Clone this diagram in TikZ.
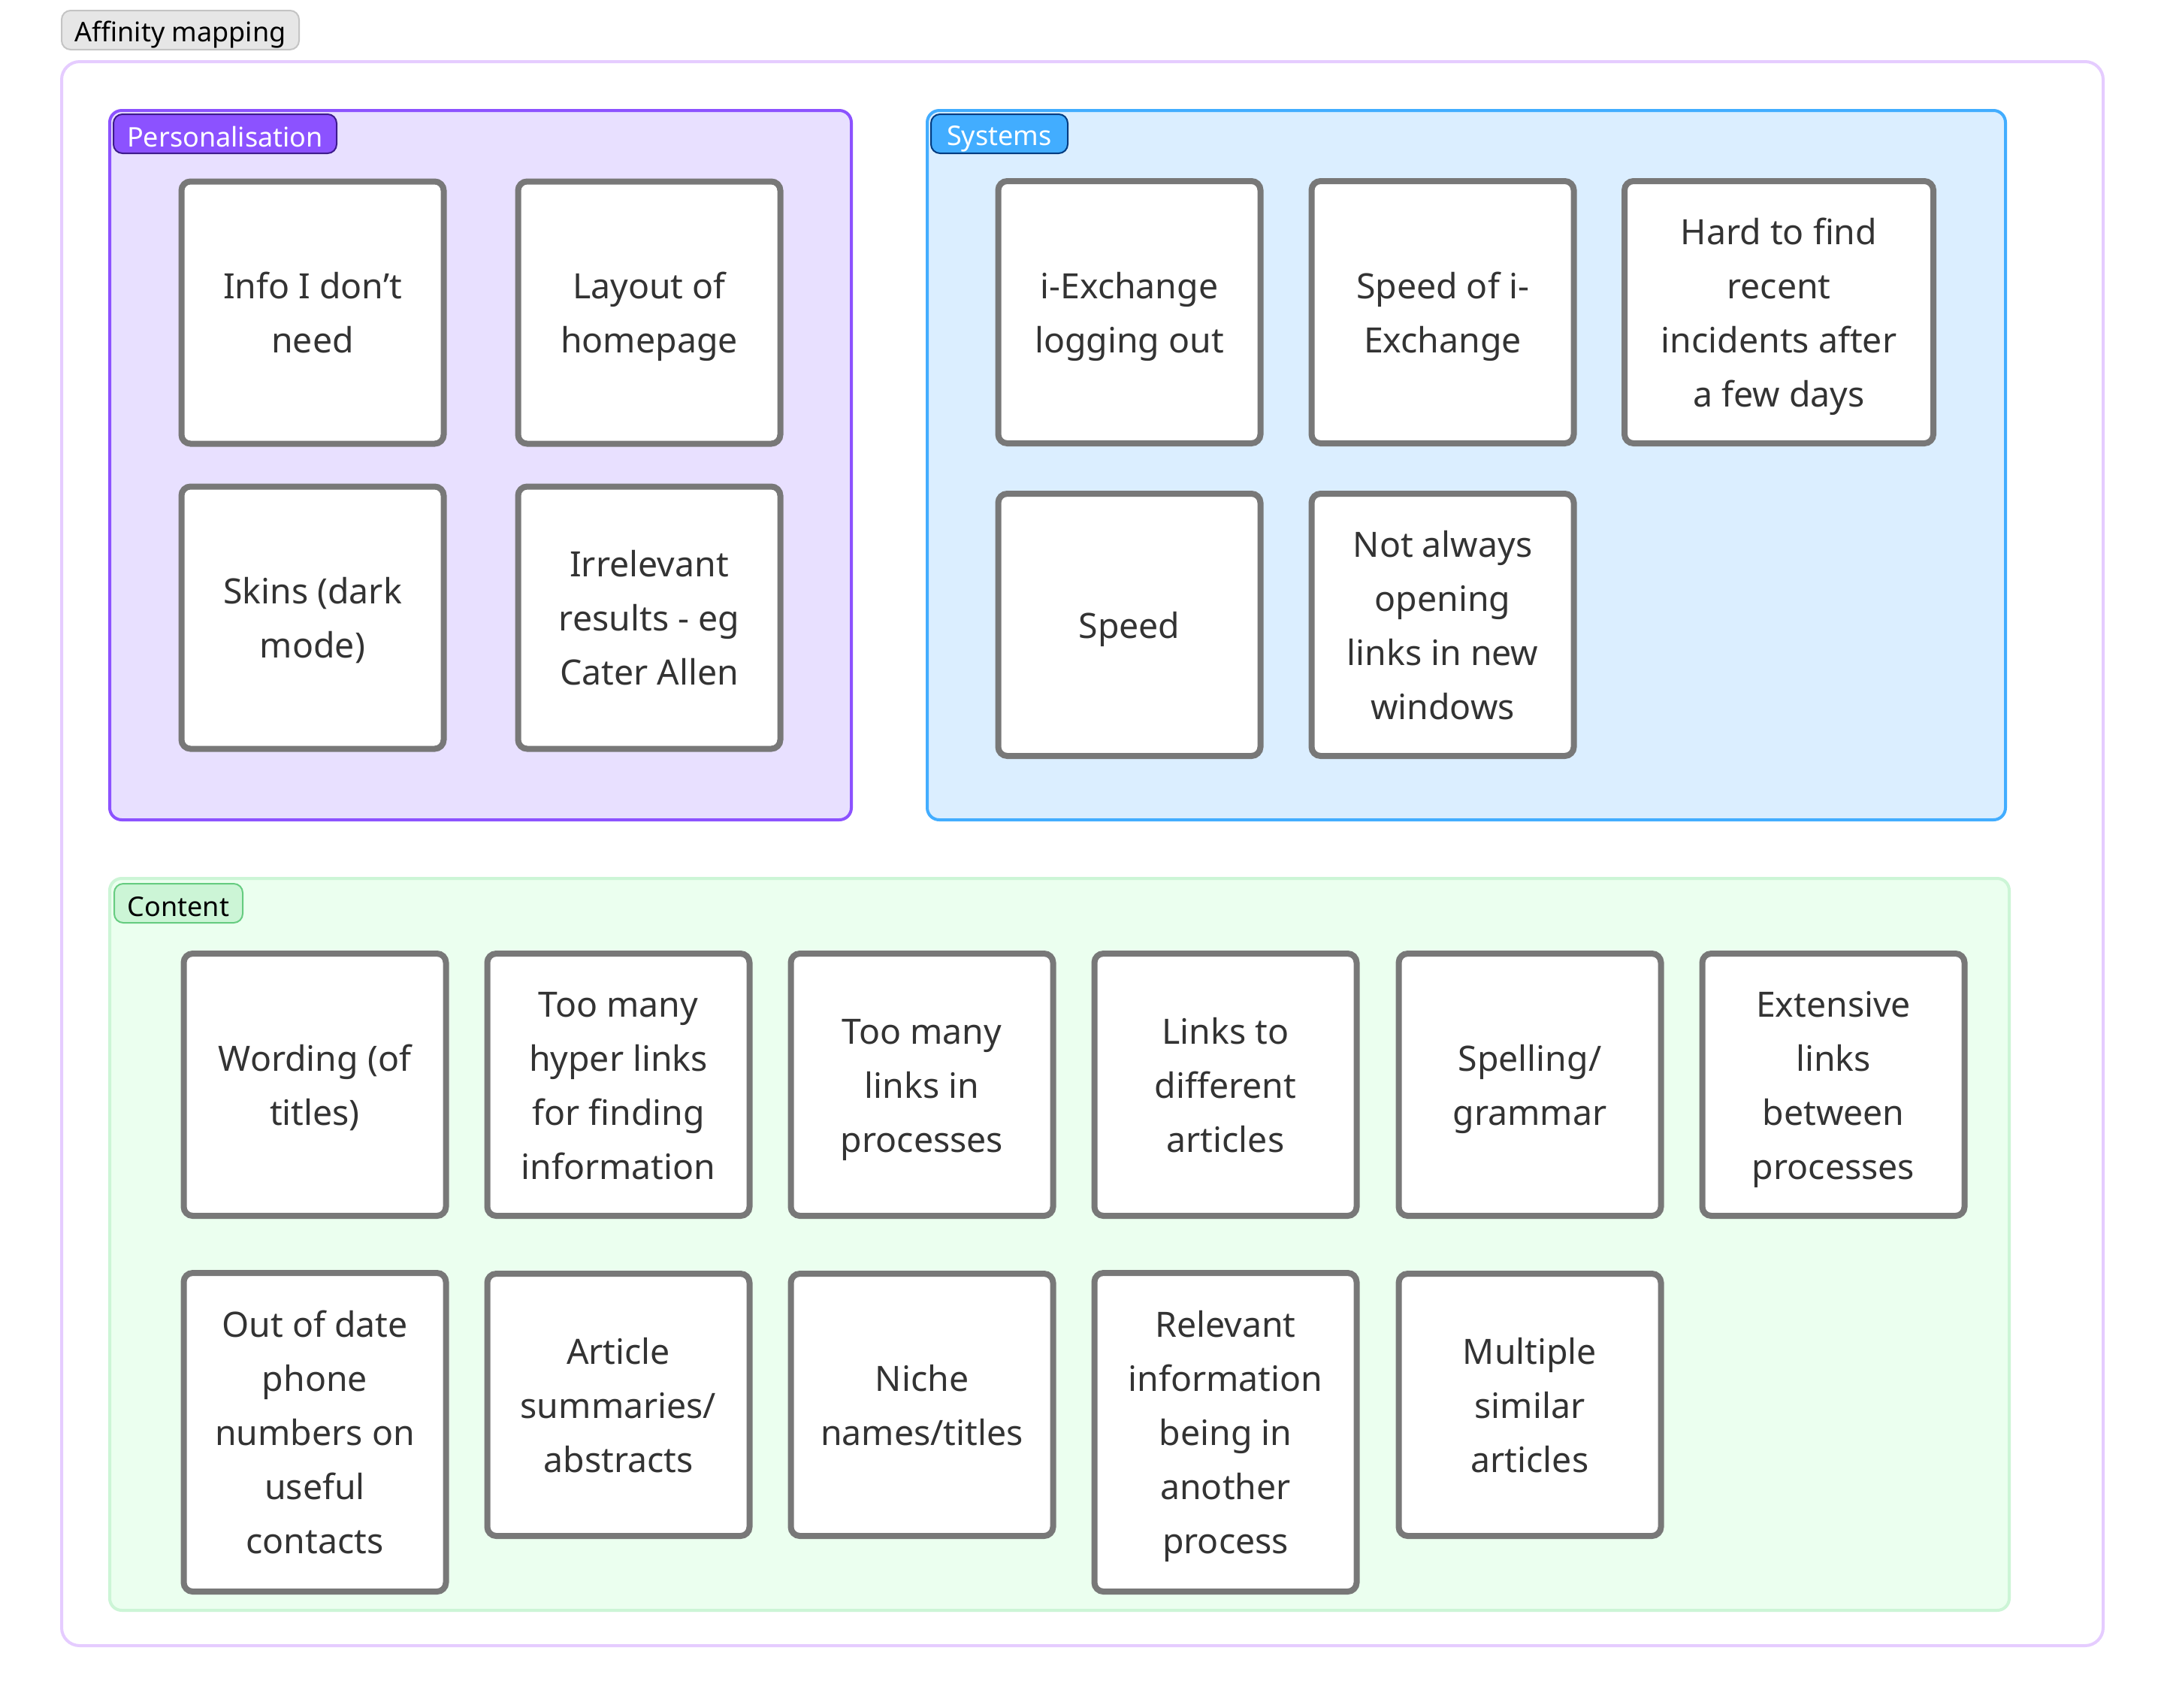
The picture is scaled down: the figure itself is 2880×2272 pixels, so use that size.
\documentclass[tikz,border=0pt]{standalone}
\usepackage{fontspec}
\setmainfont{Noto Sans}
\definecolor{cardgray}{HTML}{787878}
\definecolor{textgray}{HTML}{333333}
\definecolor{outerline}{HTML}{E5CCFF}
\definecolor{persfill}{HTML}{E8E0FF}
\definecolor{persline}{HTML}{8C52FF}
\definecolor{perslbl}{HTML}{8C52FF}
\definecolor{perslblline}{HTML}{3D1A8C}
\definecolor{sysfill}{HTML}{DBEEFF}
\definecolor{sysline}{HTML}{42ADFF}
\definecolor{syslbl}{HTML}{42ADFF}
\definecolor{syslblline}{HTML}{003B80}
\definecolor{confill}{HTML}{EBFFEF}
\definecolor{conline}{HTML}{CCF5D6}
\definecolor{conlbl}{HTML}{CCF5D6}
\definecolor{conlblline}{HTML}{66CC80}
\definecolor{afffill}{HTML}{E6E6E6}
\definecolor{affline}{HTML}{C4C4C4}
\newcommand\cs{\rule[-4.6pt]{0pt}{18pt}}
\newcommand\lblstrut{\rule[-0.8pt]{0pt}{10.5pt}}
\begin{document}
\begin{tikzpicture}[x=0.25pt,y=-0.25pt,
  card/.style={draw=cardgray, line width=2pt, fill=white, rounded corners=3pt,
    minimum width=87.25pt, minimum height=87.25pt, align=center, text=textgray,
    font=\fontsize{11.6}{18}\selectfont, inner sep=0pt},
  widecard/.style={card, minimum width=102.75pt},
  tallcard/.style={card, minimum height=106pt},
  lbl/.style={line width=0.5pt, rounded corners=3pt, minimum height=13pt,
    inner sep=0pt, font=\fontsize{9}{11}\selectfont,
    execute at begin node=\lblstrut},
  group/.style={line width=1pt, rounded corners=4pt}]
\useasboundingbox (0,0) rectangle (2880,2272);
\fill[white] (0,0) rectangle (2880,2272);

% outer frame
\draw[draw=outerline, line width=1pt, rounded corners=6pt] (82,82) rectangle (2799,2190);
\node[lbl, fill=afffill, draw=affline, minimum width=79pt, text=black] (afflbl) at (240,40) {Affinity mapping};

% groups
\draw[group, fill=persfill, draw=persline] (146,147) rectangle (1133,1091);
\draw[group, fill=sysfill, draw=sysline] (1234,147) rectangle (2669,1091);
\draw[group, fill=confill, draw=conline] (146,1169) rectangle (2674,2143);

\node[lbl, fill=perslbl, draw=perslblline, minimum width=74.25pt, text=white] (perslbl) at (299.5,178) {Personalisation};
\node[lbl, fill=syslbl, draw=syslblline, minimum width=45.5pt, text=white] (syslbl) at (1330,178) {Systems};
\node[lbl, fill=conlbl, draw=conlblline, minimum width=42.75pt, text=black] (conlbl) at (237.5,1202) {Content};

% Personalisation cards
\node[card] (p1) at (416,416) {\cs Info I don’t\\need\cs};
\node[card] (p2) at (864,416) {\cs Layout of\\homepage\cs};
\node[card] (p3) at (416,822) {\cs Skins (dark\\mode)\cs};
\node[card] (p4) at (864,822) {\cs Irrelevant\\results - eg\\Cater Allen\cs};

% Systems cards
\node[card] (s1) at (1503,415.5) {\cs i-Exchange\\logging out\cs};
\node[card] (s2) at (1920,415.5) {\cs Speed of i-\\Exchange\cs};
\node[widecard] (s3) at (2367.5,415.5) {\cs Hard to find\\recent\\incidents after\\a few days\cs};
\node[card] (s4) at (1503,831.5) {\cs Speed\cs};
\node[card] (s5) at (1920,831.5) {\cs Not always\\opening\\links in new\\windows\cs};

% Content cards row 1
\node[card] (c1) at (419,1443.5) {\cs Wording (of\\titles)\cs};
\node[card] (c2) at (823,1443.5) {\cs Too many\\hyper links\\for finding\\information\cs};
\node[card] (c3) at (1227,1443.5) {\cs Too many\\links in\\processes\cs};
\node[card] (c4) at (1631,1443.5) {\cs Links to\\different\\articles\cs};
\node[card] (c5) at (2036,1443.5) {\cs Spelling/\\grammar\cs};
\node[card] (c6) at (2440,1443.5) {\cs Extensive\\links\\between\\processes\cs};

% Content cards row 2
\node[tallcard] (c7) at (419,1906) {\cs Out of date\\phone\\numbers on\\useful\\contacts\cs};
\node[card] (c8) at (823,1869.5) {\cs Article\\summaries/\\abstracts\cs};
\node[card] (c9) at (1227,1869.5) {\cs Niche\\names/titles\cs};
\node[tallcard] (c10) at (1631,1906) {\cs Relevant\\information\\being in\\another\\process\cs};
\node[card] (c11) at (2036,1869.5) {\cs Multiple\\similar\\articles\cs};
\end{tikzpicture}
\end{document}
